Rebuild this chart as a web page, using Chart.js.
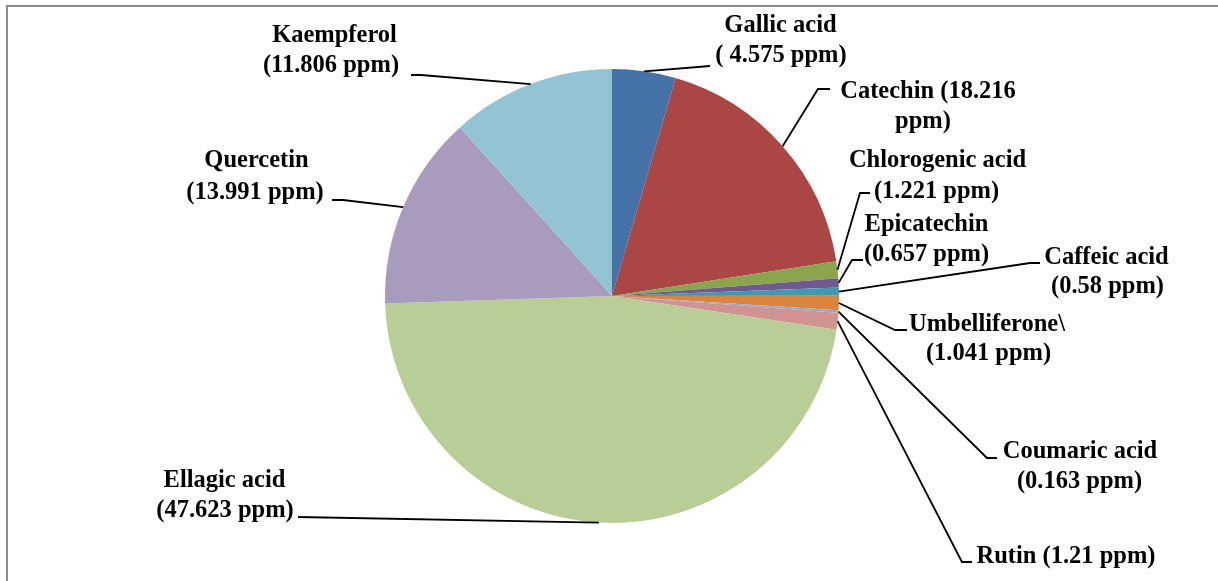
<!DOCTYPE html>
<html><head><meta charset="utf-8">
<script src="https://cdn.jsdelivr.net/npm/chart.js@4.4.0/dist/chart.umd.min.js"></script>
<style>html,body{margin:0;padding:0;background:#fff;overflow:hidden;} canvas{display:block;}</style>
</head><body>
<canvas id="c" width="1218" height="581"></canvas>
<script>
// ---- data ----
const categories = ["Gallic acid","Catechin","Chlorogenic acid","Epicatechin","Caffeic acid","Umbelliferone","Coumaric acid","Rutin","Ellagic acid","Quercetin","Kaempferol"];
const values = [4.575, 18.216, 1.221, 0.657, 0.58, 1.041, 0.163, 1.21, 47.623, 13.991, 11.806];
const labelTexts = [
  ["Gallic acid", "( 4.575 ppm)"],
  ["Catechin (18.216", "ppm)"],
  ["Chlorogenic acid", "(1.221 ppm)"],
  ["Epicatechin", "(0.657 ppm)"],
  ["Caffeic acid", "(0.58 ppm)"],
  ["Umbelliferone\\", "(1.041 ppm)"],
  ["Coumaric acid", "(0.163 ppm)"],
  ["Rutin (1.21 ppm)"],
  ["Ellagic acid", "(47.623 ppm)"],
  ["Quercetin", "(13.991 ppm)"],
  ["Kaempferol", "(11.806 ppm)"]
];
const colors = ["#4572A7","#AA4643","#89A54E","#71588F","#4198AF","#DB843D","#93A9CF","#D19392","#B9CD96","#A99BBD","#93C4D4"];

// ---- label layout (text centres / baselines, leader path ending at label) ----
const labelLayout = [
  {cx:[780.5,781], by:[31.7,61.7], path:[[710,66]]},
  {cx:[928,923], by:[98,128], path:[[818,89],[830,89]]},
  {cx:[937.5,936.5], by:[166.7,197.5], path:[[860,193],[870,193]]},
  {cx:[926.5,926.5], by:[230.7,260.7], path:[[852,260],[863,260]]},
  {cx:[1106.5,1107.5], by:[264,293.3], path:[[1030,263],[1040,263]]},
  {cx:[987,988.5], by:[330.7,360], path:[[895,330],[907,330]]},
  {cx:[1080,1079.5], by:[458.3,488.3], path:[[987,458],[997,458]]},
  {cx:[1066], by:[563.3], path:[[962,562],[972,562]]},
  {cx:[224.5,225], by:[486.7,517.3], path:[[298,517]]},
  {cx:[256.5,255], by:[167,199], path:[[343,200],[332,200]]},
  {cx:[334.5,331], by:[42,72], path:[[421,75],[411,75]]}
];

const framePlugin = {
  id:'frame',
  beforeDraw(chart){
    const ctx = chart.ctx;
    ctx.save();
    ctx.fillStyle = '#fff';
    ctx.fillRect(0,0,chart.width,chart.height);
    ctx.strokeStyle = '#8c8c8c';
    ctx.lineWidth = 2;
    ctx.beginPath();
    ctx.moveTo(7, chart.height + 5);
    ctx.lineTo(7, 6);
    ctx.lineTo(chart.width + 5, 6);
    ctx.stroke();
    ctx.restore();
  }
};

const labelPlugin = {
  id:'pieLabels',
  afterDraw(chart){
    const ctx = chart.ctx;
    const meta = chart.getDatasetMeta(0);
    ctx.save();
    meta.data.forEach((arc, i) => {
      const p = arc.getProps(['x','y','startAngle','endAngle','outerRadius'], true);
      const mid = (p.startAngle + p.endAngle) / 2;
      const sx = p.x + Math.cos(mid) * p.outerRadius;
      const sy = p.y + Math.sin(mid) * p.outerRadius;
      const L = labelLayout[i];
      ctx.strokeStyle = '#000';
      ctx.lineWidth = 1.8;
      ctx.beginPath();
      ctx.moveTo(sx, sy);
      L.path.forEach(pt => ctx.lineTo(pt[0], pt[1]));
      ctx.stroke();
      ctx.fillStyle = '#000';
      ctx.font = "bold 24.5px 'Liberation Serif', 'Times New Roman', serif";
      ctx.textAlign = 'center';
      ctx.textBaseline = 'alphabetic';
      labelTexts[i].forEach((t, k) => ctx.fillText(t, L.cx[k], L.by[k]));
    });
    ctx.restore();
  }
};

new Chart(document.getElementById('c'), {
  type: 'pie',
  data: {
    labels: categories,
    datasets: [{
      data: values,
      backgroundColor: colors,
      borderWidth: 0
    }]
  },
  options: {
    responsive: false,
    animation: false,
    devicePixelRatio: 1,
    layout: { padding: { left: 385, right: 379, top: 69, bottom: 58 } },
    plugins: { legend: { display: false }, tooltip: { enabled: false } }
  },
  plugins: [framePlugin, labelPlugin]
});
</script>
</body></html>
